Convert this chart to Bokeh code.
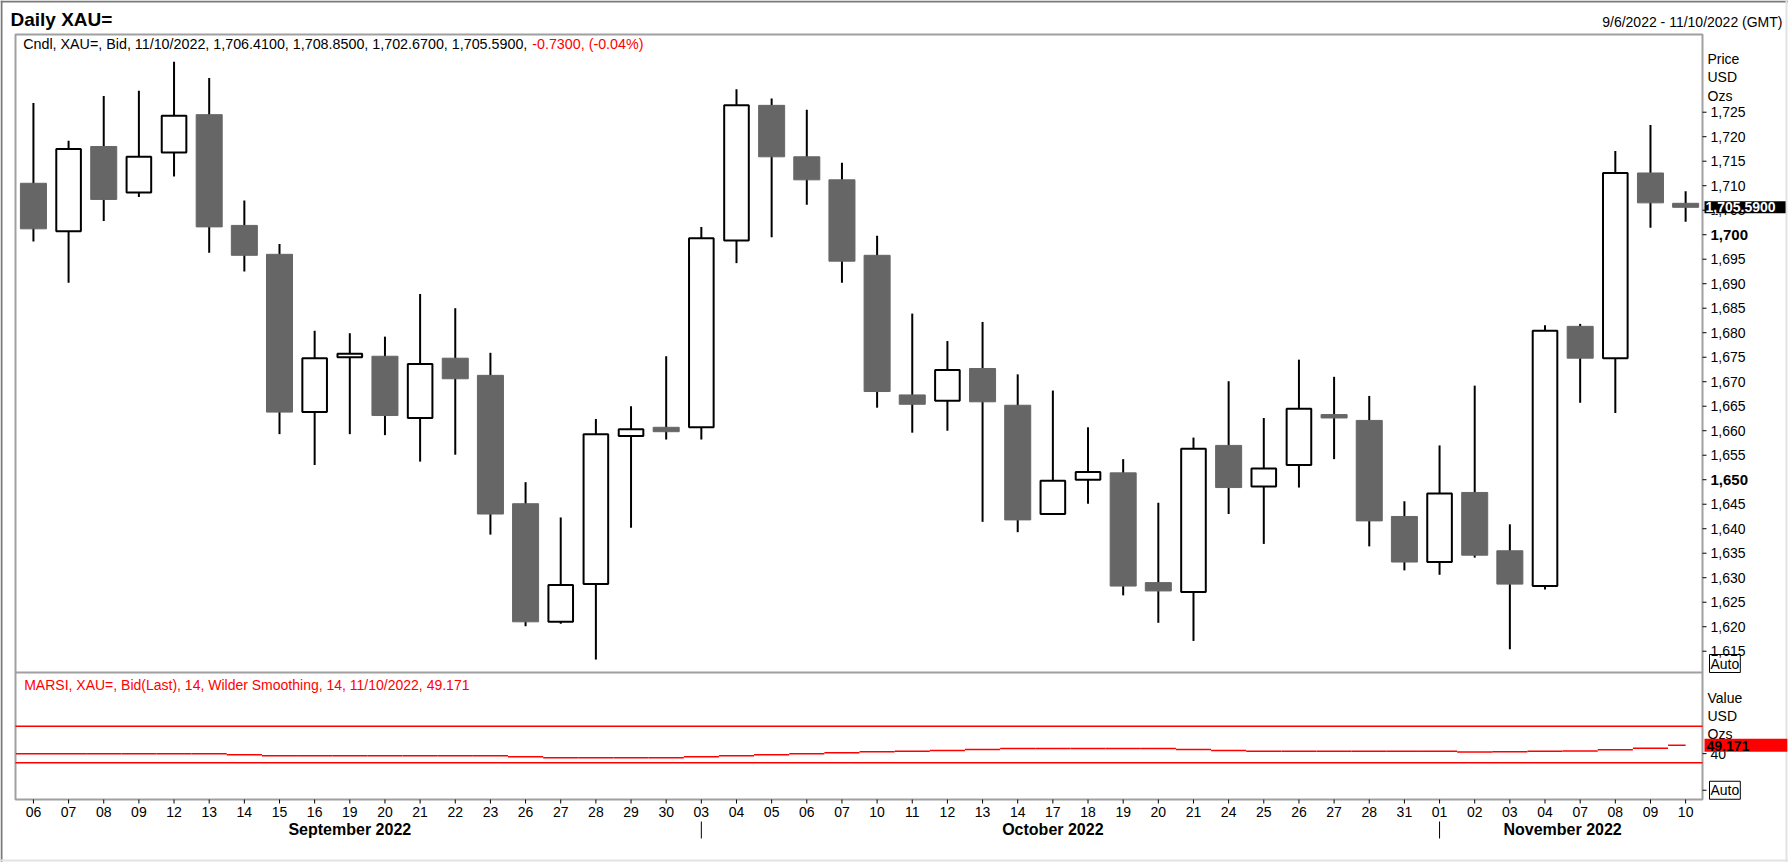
from bokeh.plotting import figure
from bokeh.models import ColumnDataSource, Range1d, Label, Grid
from bokeh.core.properties import value
from bokeh.embed import file_html
from bokeh.resources import INLINE

# ---------------- data ----------------
sep_days = ["06", "07", "08", "09", "12", "13", "14", "15", "16", "19", "20", "21", "22", "23",
            "26", "27", "28", "29", "30"]
oct_days = ["03", "04", "05", "06", "07", "10", "11", "12", "13", "14", "17", "18", "19", "20",
            "21", "24", "25", "26", "27", "28", "31"]
nov_days = ["01", "02", "03", "04", "07", "08", "09", "10"]
month_names = ["September 2022", "October 2022", "November 2022"]

open_ = [1710.5, 1700.7, 1718.0, 1708.6, 1716.8, 1724.5, 1701.9, 1696.0, 1663.8, 1675.0,
         1675.2, 1662.6, 1674.8, 1671.3, 1645.1, 1621.0, 1628.7, 1658.9, 1660.7,
         1660.7, 1698.8, 1726.4, 1715.9, 1711.2, 1695.8, 1667.3, 1666.1, 1672.7, 1665.2,
         1643.0, 1650.0, 1651.4, 1629.0, 1627.1, 1657.0, 1648.6, 1653.0, 1663.3, 1662.1, 1642.5,
         1633.2, 1647.4, 1635.5, 1628.3, 1681.3, 1674.8, 1712.6, 1706.41]
high = [1726.9, 1719.2, 1728.3, 1729.4, 1735.3, 1732.0, 1707.0, 1698.1, 1680.4, 1679.9,
        1679.2, 1687.9, 1685.0, 1675.9, 1649.5, 1642.3, 1662.4, 1665.0, 1675.2,
        1701.6, 1729.7, 1727.8, 1725.5, 1714.7, 1699.8, 1683.9, 1678.3, 1682.2, 1671.5,
        1668.2, 1660.7, 1654.2, 1645.3, 1658.6, 1670.1, 1662.6, 1674.5, 1671.0, 1667.1, 1645.6,
        1657.0, 1669.2, 1640.9, 1681.5, 1681.8, 1717.1, 1722.4, 1708.85]
low = [1698.6, 1690.2, 1702.8, 1707.7, 1711.9, 1696.3, 1692.5, 1659.3, 1653.0, 1659.3,
       1659.1, 1653.7, 1655.1, 1638.8, 1620.1, 1620.6, 1613.3, 1640.2, 1658.2,
       1658.2, 1694.2, 1699.5, 1706.1, 1690.2, 1664.7, 1659.6, 1660.0, 1641.4, 1639.3,
       1643.0, 1645.1, 1626.4, 1620.8, 1617.1, 1643.0, 1636.9, 1648.4, 1654.2, 1636.4, 1631.5,
       1630.6, 1634.1, 1615.4, 1627.6, 1665.7, 1663.6, 1701.4, 1702.67]
close = [1701.2, 1717.5, 1707.2, 1715.9, 1724.3, 1701.6, 1695.8, 1663.8, 1674.8, 1675.7,
         1663.1, 1673.6, 1670.6, 1643.0, 1621.0, 1628.5, 1659.3, 1660.3, 1659.8,
         1699.3, 1726.4, 1715.9, 1711.2, 1694.6, 1668.0, 1665.4, 1672.4, 1665.9, 1641.8,
         1649.8, 1651.6, 1628.3, 1627.3, 1656.3, 1648.4, 1652.3, 1664.5, 1662.6, 1641.6, 1633.2,
         1647.2, 1634.6, 1628.7, 1680.4, 1674.8, 1712.6, 1706.5, 1705.59]
rsi = [39.8, 39.8, 39.8, 39.8, 39.8, 39.8, 38.7, 37.6, 37.6, 37.6,
       37.6, 37.6, 37.6, 37.6, 36.5, 35.5, 35.5, 35.5, 35.5,
       36.5, 37.6, 38.7, 39.8, 40.9, 42.0, 42.5, 43.5, 44.5, 45.6,
       45.6, 45.6, 45.6, 45.6, 44.5, 43.5, 42.5, 42.5, 42.5, 42.5, 42.5,
       42.5, 41.8, 42.2, 42.6, 42.9, 44.2, 45.9, 49.171]
rsi_levels = [70, 30]
rsi_ticks = [40, 0]
rsi_tick_labels = ["40", ""]
price_ticks = list(range(1615, 1726, 5))
bold_ticks = [1650, 1700]
price_change = -0.73

# ---------------- layout (pixels from the top-left corner) ----------------
W, H = 1788, 862
LEFT, TOP = 15, 34            # panel frame left / top
FRAME_R, FRAME_B = 1702, 799  # panel frame right / bottom
SEP_Y = 672                   # divider between price and RSI panels
FW, FH = FRAME_R - LEFT, FRAME_B - TOP
X_LO, X_HI = -0.51, 47.48
Y_LO, Y_HI = 1584.74, 1740.86
R_LO, R_HI = -10.1, 826.0
FONT = "Liberation Sans"
GRAY_LINE = "#a0a0a0"

XK = (X_HI - X_LO) / FW
YK = (Y_HI - Y_LO) / FH
RK = (R_HI - R_LO) / FH


def dx(px):
    return X_LO + (px - LEFT) * XK


def dy(py):
    return Y_HI - (py - TOP) * YK


def rsi_py(v):
    return TOP + (R_HI - v) / RK


dates = sep_days + oct_days + nov_days
idx = list(range(len(dates)))
month_groups = [sep_days, oct_days, nov_days]
starts = []
s = 0
for g in month_groups:
    starts.append(s)
    s += len(g)

p = figure(width=W, height=H, x_range=Range1d(dx(0), dx(W)), y_range=Range1d(dy(H), dy(0)),
           output_backend="svg", toolbar_location=None,
           x_axis_location=None, y_axis_location=None,
           min_border=0, min_border_left=0, min_border_right=0, min_border_top=0,
           min_border_bottom=0)
p.title_location = None
p.center = [r for r in p.center if not isinstance(r, Grid)]
p.extra_y_ranges = {"rsi": Range1d(R_LO - (H - FRAME_B) * RK, R_HI + TOP * RK)}
p.outline_line_color = None
p.background_fill_color = "white"
p.border_fill_color = "white"

# ---------------- outer window border ----------------
p.segment(x0=[dx(0), dx(1)], y0=[dy(1), dy(0)], x1=[dx(W), dx(1)], y1=[dy(1), dy(H)],
          line_color="#7a7a7a", line_width=2)
p.segment(x0=[dx(0), dx(W - 2)], y0=[dy(H - 2), dy(0)], x1=[dx(W), dx(W - 2)], y1=[dy(H - 2), dy(H)],
          line_color="#e3e3e3", line_width=2)

# ---------------- panel frames ----------------
p.quad(left=[X_LO], right=[X_HI], bottom=[Y_LO], top=[Y_HI], fill_color=None,
       line_color=GRAY_LINE, line_width=2)
p.segment(x0=[X_LO], x1=[X_HI], y0=[dy(SEP_Y)], y1=[dy(SEP_Y)], line_color=GRAY_LINE, line_width=2)

# ---------------- candles ----------------
up_i = [i for i in idx if close[i] > open_[i]]
dn_i = [i for i in idx if close[i] <= open_[i]]

wick_src = ColumnDataSource(dict(x=idx, lo=low, hi=high))
p.segment(x0="x", y0="lo", x1="x", y1="hi", source=wick_src, line_color="black", line_width=2)

up_src = ColumnDataSource(dict(x=up_i, top=[close[i] for i in up_i], bot=[open_[i] for i in up_i]))
dn_src = ColumnDataSource(dict(x=dn_i, top=[open_[i] for i in dn_i], bot=[close[i] for i in dn_i]))
p.vbar(x="x", top="top", bottom="bot", width=0.7, source=up_src,
       fill_color="white", line_color="black", line_width=2)
p.vbar(x="x", top="top", bottom="bot", width=0.74, source=dn_src,
       fill_color="#666666", line_color="#666666", line_width=1)

# ---------------- RSI panel ----------------
last = idx[-1]
rsi_src = ColumnDataSource(dict(x0=[i - 0.5 for i in idx], x1=[min(i + 0.5, last) for i in idx], y=rsi))
p.segment(x0="x0", y0="y", x1="x1", y1="y", source=rsi_src, y_range_name="rsi",
          line_color="#ff0000", line_width=1.5)
p.segment(x0=X_LO, x1=X_HI, y0="y", y1="y", source=ColumnDataSource(dict(y=rsi_levels)),
          y_range_name="rsi", line_color="#ff0000", line_width=1.5)

# ---------------- price scale (right) ----------------
TXT = dict(text_font=value(FONT), text_baseline="middle", text_color="black")
tick_src = ColumnDataSource(dict(y=price_ticks))
p.segment(x0=X_HI, x1=dx(FRAME_R + 4), y0="y", y1="y", source=tick_src, line_color="black", line_width=1)
plain = [t for t in price_ticks if t not in bold_ticks]
p.text(x=dx(FRAME_R + 8), y="y", text="t",
       source=ColumnDataSource(dict(y=plain, t=[f"{t:,}" for t in plain])),
       text_font_size=value("14px"), text_align="left", **TXT)
p.text(x=dx(FRAME_R + 8), y="y", text="t",
       source=ColumnDataSource(dict(y=bold_ticks, t=[f"{t:,}" for t in bold_ticks])),
       text_font_size=value("15px"), text_font_style="bold", text_align="left", **TXT)

rsi_tick_src = ColumnDataSource(dict(y=rsi_ticks, t=rsi_tick_labels))
p.segment(x0=X_HI, x1=dx(FRAME_R + 4), y0="y", y1="y", source=rsi_tick_src, y_range_name="rsi",
          line_color="black", line_width=1)
p.text(x=dx(FRAME_R + 8), y="y", text="t", source=rsi_tick_src, y_range_name="rsi",
       text_font_size=value("14px"), text_align="left", **TXT)

# ---------------- date scale (bottom) ----------------
day_src = ColumnDataSource(dict(x=idx, t=dates))
p.segment(x0="x", x1="x", y0=Y_LO, y1=dy(FRAME_B + 4), source=day_src, line_color="black", line_width=1)
p.text(x="x", y=dy(811), text="t", source=day_src, text_font_size=value("14px"),
       text_align="center", **TXT)
p.segment(x0="x", x1="x", y0=dy(821), y1=dy(838), source=ColumnDataSource(dict(x=starts[1:])),
          line_color="black", line_width=1)
month_x = [(st + st + len(g) - 1) / 2 for st, g in zip(starts, month_groups)]
month_src = ColumnDataSource(dict(x=month_x, t=month_names))
p.text(x="x", y=dy(829), text="t", source=month_src, text_font_size=value("16px"),
       text_font_style="bold", text_align="center", **TXT)


# ---------------- texts ----------------
def lab(px, py, text, size="14px", color="black", style="normal", align="left", **kw):
    p.add_layout(Label(x=dx(px), y=dy(py), text=text, text_font=FONT, text_font_size=size,
                       text_color=color, text_font_style=style, text_align=align,
                       text_baseline="middle", **kw))


lab(10, 18.5, "Daily XAU=", size="19px", style="bold")
lab(1782, 21, "9/6/2022 - 11/10/2022 (GMT)", align="right")
lab(22.7, 43,
    f"Cndl, XAU=, Bid, 11/10/2022, {open_[-1]:,.4f}, {high[-1]:,.4f}, {low[-1]:,.4f}, {close[-1]:,.4f}, ",
    size="14.3px")
lab(531.7, 43, f"{price_change:.4f}, ({price_change / (close[-1] - price_change) * 100:.2f}%)",
    size="14.3px", color="#ff0000")
lab(23.7, 684, f"MARSI, XAU=, Bid(Last),  14, Wilder Smoothing, 14, 11/10/2022, {rsi[-1]:.3f}",
    color="#ff0000")

for t, yy in zip(["Price", "USD", "Ozs"], [58, 76.5, 95]):
    lab(1707, yy, t)
for t, yy in zip(["Value", "USD", "Ozs"], [697, 715, 733]):
    lab(1707, yy, t)
for yy in [663, rsi_py(0)]:
    lab(1709, yy, "Auto", border_line_color="black", border_line_width=1, padding=1)

p.add_layout(Label(x=X_HI, y=close[-1], text=f"{close[-1]:,.4f}", text_font=FONT,
                   text_font_size="14px", text_font_style="bold", text_color="white",
                   text_baseline="middle", text_align="left", x_offset=2,
                   background_fill_color="black", padding=(1, 10, 1, 1)))
p.add_layout(Label(x=X_HI, y=rsi[-1], y_range_name="rsi", text=f"{rsi[-1]:.3f}", text_font=FONT,
                   text_font_size="14px", text_font_style="bold", text_color="black",
                   text_baseline="middle", text_align="left", x_offset=2,
                   background_fill_color="#ff0000", padding=(2, 38, 2, 1)))

open("out.html", "w").write(file_html(p, INLINE))
